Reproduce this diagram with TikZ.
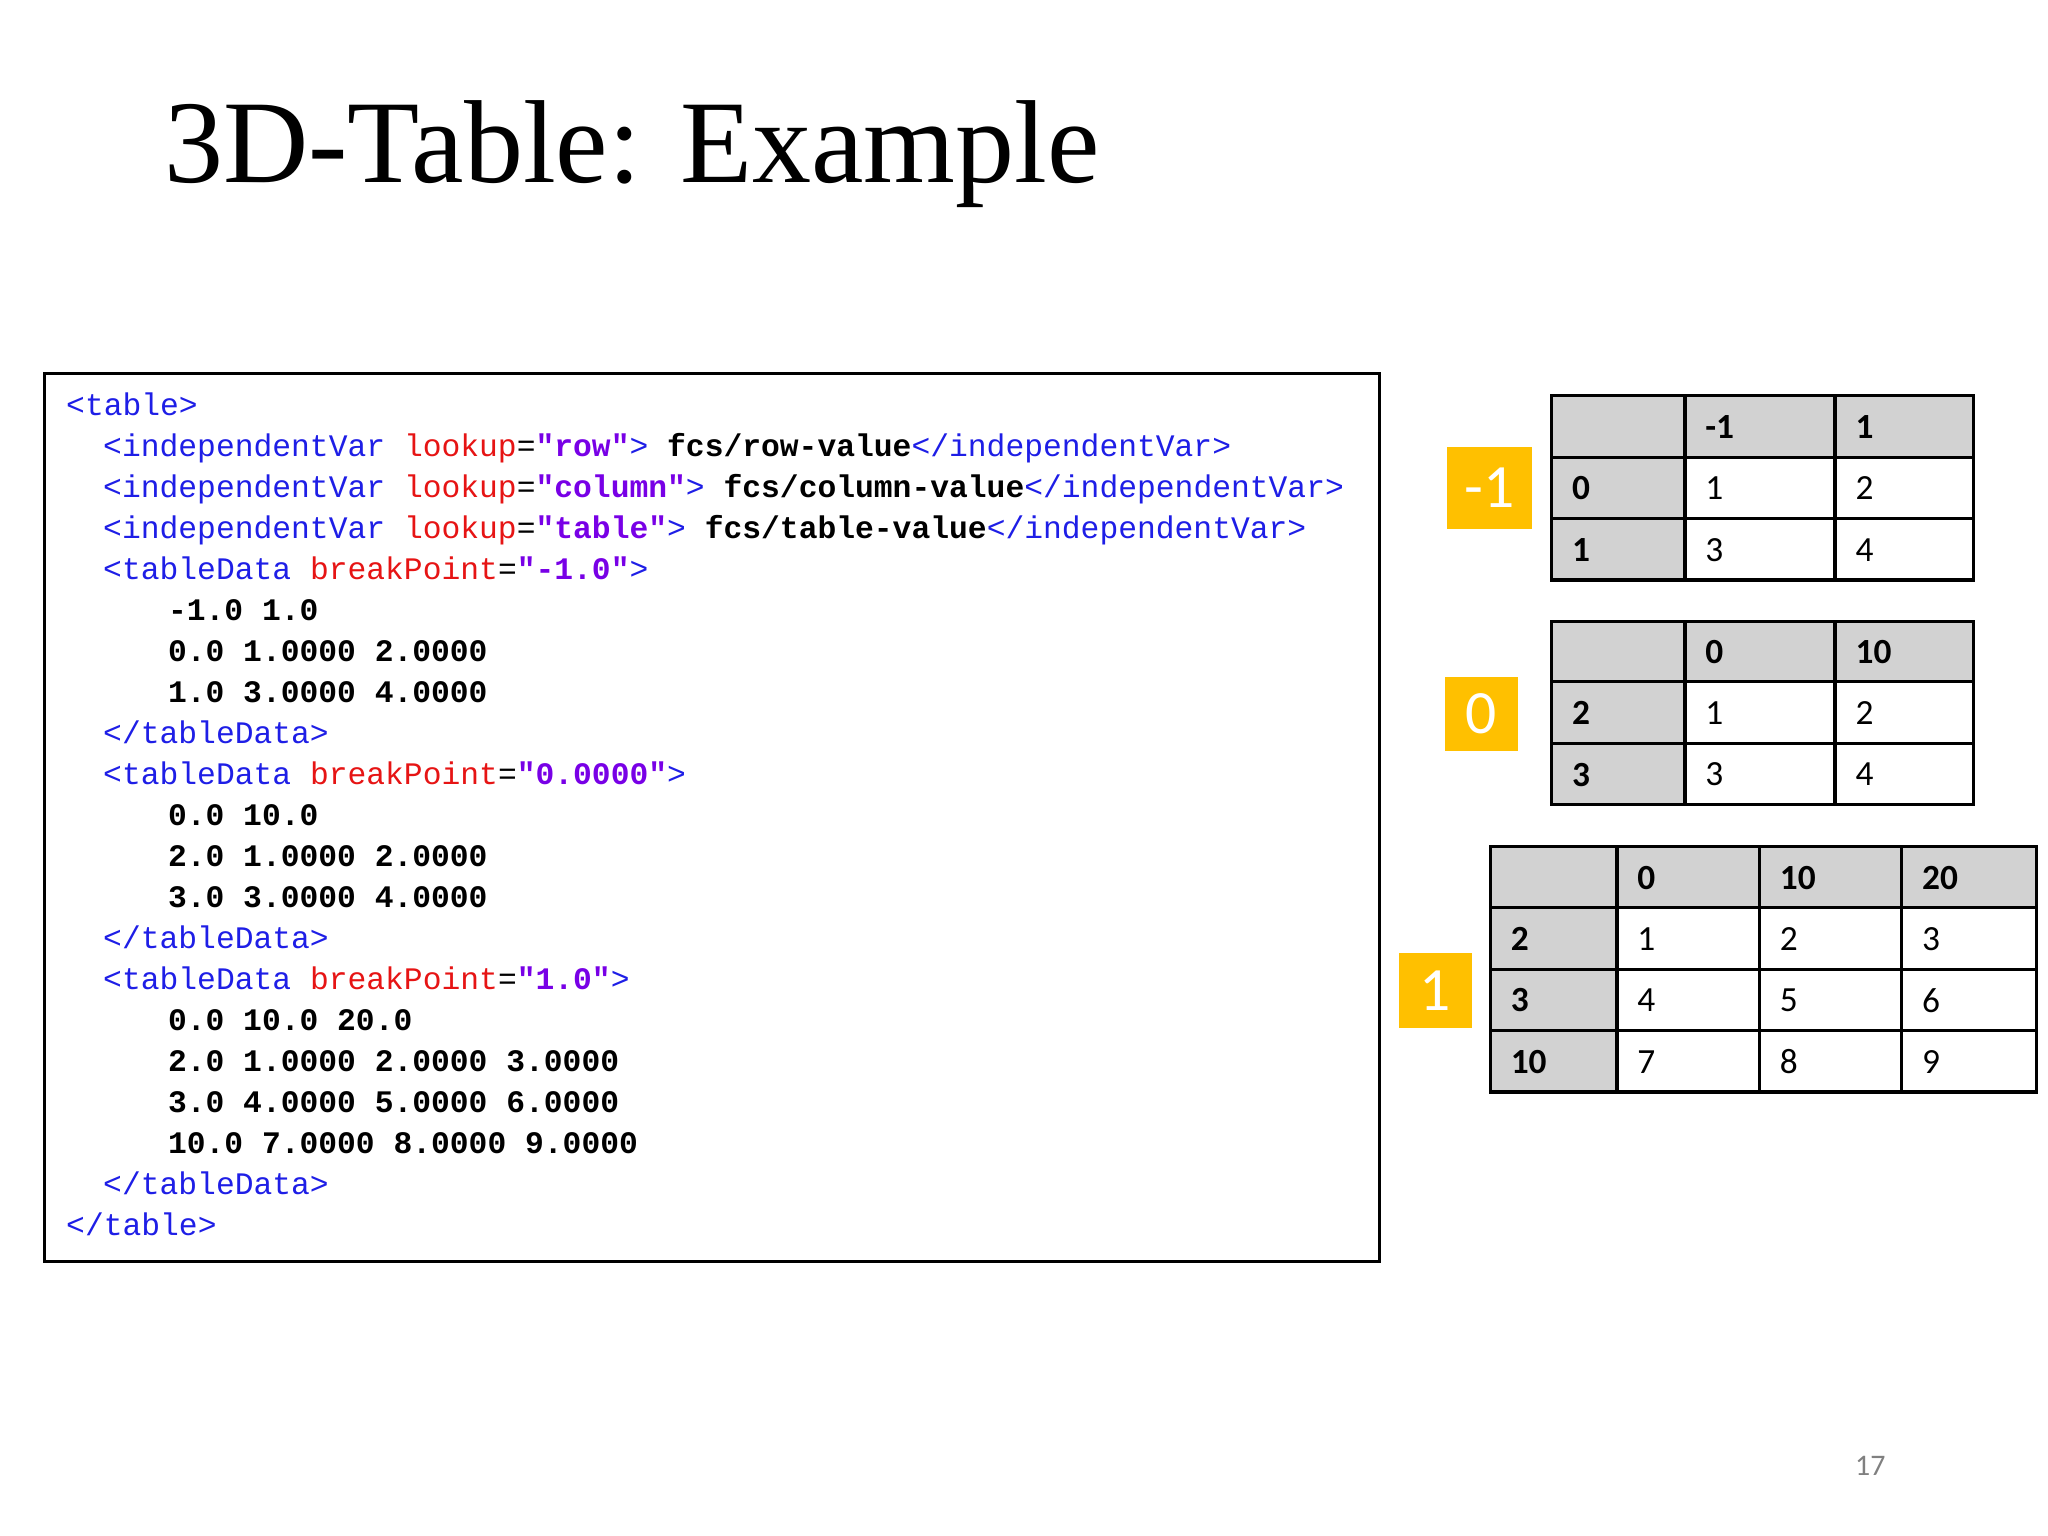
\documentclass[tikz,border=0pt]{standalone}
\usepackage{fontspec}
\setmainfont{Liberation Serif}
\newfontfamily\codefont{Liberation Mono}
\newfontfamily\calfont{Carlito}
\definecolor{tagb}{RGB}{30,30,230}
\definecolor{attr}{RGB}{230,20,20}
\definecolor{valp}{RGB}{120,0,230}
\definecolor{ygold}{RGB}{255,192,0}
\definecolor{hgray}{RGB}{210,210,210}
\newcommand{\tg}[1]{\textcolor{tagb}{#1}}
\newcommand{\atr}[1]{\textcolor{attr}{#1}}
\newcommand{\vl}[1]{\textcolor{valp}{\bfseries #1}}
\newcommand{\bd}[1]{{\bfseries #1}}
\newcommand{\ind}[1]{\hspace*{#1\dimexpr 4.03pt\relax}}
\begin{document}
\begin{tikzpicture}[x=0.01cm,y=-0.01cm,
  codeline/.style={anchor=base west,inner sep=0,font=\codefont\fontsize{6.82}{7}\selectfont},
  ctext/.style={anchor=west,inner sep=0,font=\calfont\fontsize{7.7}{8}\selectfont},
  btext/.style={anchor=west,inner sep=0,font=\calfont\bfseries\fontsize{7.7}{8}\selectfont},
  tl/.style={line width=0.7pt},
  ybox/.style={fill=ygold,text=white,inner sep=0,font=\calfont\fontsize{13.4}{14}\selectfont}]
\useasboundingbox (0,0) rectangle (1568,1176);
\node[anchor=base west,inner sep=0,font=\fontsize{25.7}{28}\selectfont] (title) at (125,140) {3D-Table: Example};
\draw[line width=0.6pt] (34,286) rectangle (1056,966);
\foreach \i/\t in {
0/{\tg{<table>}},
1/{\ind{2}\tg{<independentVar}\atr{\ lookup}=\vl{"row"}\tg{>}\bd{\ fcs/row-value}\tg{</independentVar>}},
2/{\ind{2}\tg{<independentVar}\atr{\ lookup}=\vl{"column"}\tg{>}\bd{\ fcs/column-value}\tg{</independentVar>}},
3/{\ind{2}\tg{<independentVar}\atr{\ lookup}=\vl{"table"}\tg{>}\bd{\ fcs/table-value}\tg{</independentVar>}},
4/{\ind{2}\tg{<tableData}\atr{\ breakPoint}=\vl{"-1.0"}\tg{>}},
5/{\ind{5.5}\bd{-1.0 1.0}},
6/{\ind{5.5}\bd{0.0 1.0000 2.0000}},
7/{\ind{5.5}\bd{1.0 3.0000 4.0000}},
8/{\ind{2}\tg{</tableData>}},
9/{\ind{2}\tg{<tableData}\atr{\ breakPoint}=\vl{"0.0000"}\tg{>}},
10/{\ind{5.5}\bd{0.0 10.0}},
11/{\ind{5.5}\bd{2.0 1.0000 2.0000}},
12/{\ind{5.5}\bd{3.0 3.0000 4.0000}},
13/{\ind{2}\tg{</tableData>}},
14/{\ind{2}\tg{<tableData}\atr{\ breakPoint}=\vl{"1.0"}\tg{>}},
15/{\ind{5.5}\bd{0.0 10.0 20.0}},
16/{\ind{5.5}\bd{2.0 1.0000 2.0000 3.0000}},
17/{\ind{5.5}\bd{3.0 4.0000 5.0000 6.0000}},
18/{\ind{5.5}\bd{10.0 7.0000 8.0000 9.0000}},
19/{\ind{2}\tg{</tableData>}},
20/{\tg{</table>}}}
  \node[codeline] (c\i) at (50,{318+31.4*\i}) {\t};
% table 1
\fill[hgray] (1188,303) rectangle (1511,350);
\fill[hgray] (1188,350) rectangle (1290,444);
\draw[tl] (1188,303) rectangle (1511,444);
\foreach \y in {350,397} \draw[tl] (1188,\y) -- (1511,\y);
\foreach \x in {1290,1405} \draw[tl] (\x,303) -- (\x,444);
\node[btext] (t1a) at (1305,327) {-1};
\node[btext] (t1b) at (1420,327) {1};
\node[btext] (t1c) at (1203,374) {0};
\node[btext] (t1d) at (1203,421) {1};
\node[ctext] (t1e) at (1305,374) {1};
\node[ctext] (t1f) at (1420,374) {2};
\node[ctext] (t1g) at (1305,421) {3};
\node[ctext] (t1h) at (1420,421) {4};
% table 2
\fill[hgray] (1188,476) rectangle (1511,522);
\fill[hgray] (1188,522) rectangle (1290,616);
\draw[tl] (1188,476) rectangle (1511,616);
\foreach \y in {522,569} \draw[tl] (1188,\y) -- (1511,\y);
\foreach \x in {1290,1405} \draw[tl] (\x,476) -- (\x,616);
\node[btext] (t2a) at (1305,499) {0};
\node[btext] (t2b) at (1420,499) {10};
\node[btext] (t2c) at (1203,546) {2};
\node[btext] (t2d) at (1203,593) {3};
\node[ctext] (t2e) at (1305,546) {1};
\node[ctext] (t2f) at (1420,546) {2};
\node[ctext] (t2g) at (1305,593) {3};
\node[ctext] (t2h) at (1420,593) {4};
% table 3
\fill[hgray] (1141,648) rectangle (1559,695);
\fill[hgray] (1141,695) rectangle (1238,836);
\draw[tl] (1141,648) rectangle (1559,836);
\foreach \y in {695,742,789} \draw[tl] (1141,\y) -- (1559,\y);
\foreach \x in {1238,1347,1456} \draw[tl] (\x,648) -- (\x,836);
\node[btext] (t3a) at (1253,672) {0};
\node[btext] (t3b) at (1362,672) {10};
\node[btext] (t3c) at (1471,672) {20};
\node[btext] (t3d) at (1156,719) {2};
\node[btext] (t3e) at (1156,766) {3};
\node[btext] (t3f) at (1156,813) {10};
\node[ctext] (t3g) at (1253,719) {1};
\node[ctext] (t3h) at (1362,719) {2};
\node[ctext] (t3i) at (1471,719) {3};
\node[ctext] (t3j) at (1253,766) {4};
\node[ctext] (t3k) at (1362,766) {5};
\node[ctext] (t3l) at (1471,766) {6};
\node[ctext] (t3m) at (1253,813) {7};
\node[ctext] (t3n) at (1362,813) {8};
\node[ctext] (t3o) at (1471,813) {9};
% yellow labels
\node[ybox,minimum width=0.65cm,minimum height=0.63cm] (y1) at (1140.5,373.5) {-1};
\node[ybox,minimum width=0.56cm,minimum height=0.57cm] (y2) at (1134,546.5) {0};
\node[ybox,minimum width=0.56cm,minimum height=0.57cm] (y3) at (1099,758.5) {1};
\node[inner sep=0,text=gray,font=\calfont\fontsize{6.5}{7}\selectfont] (pg) at (1432,1122) {17};
\end{tikzpicture}
\end{document}
